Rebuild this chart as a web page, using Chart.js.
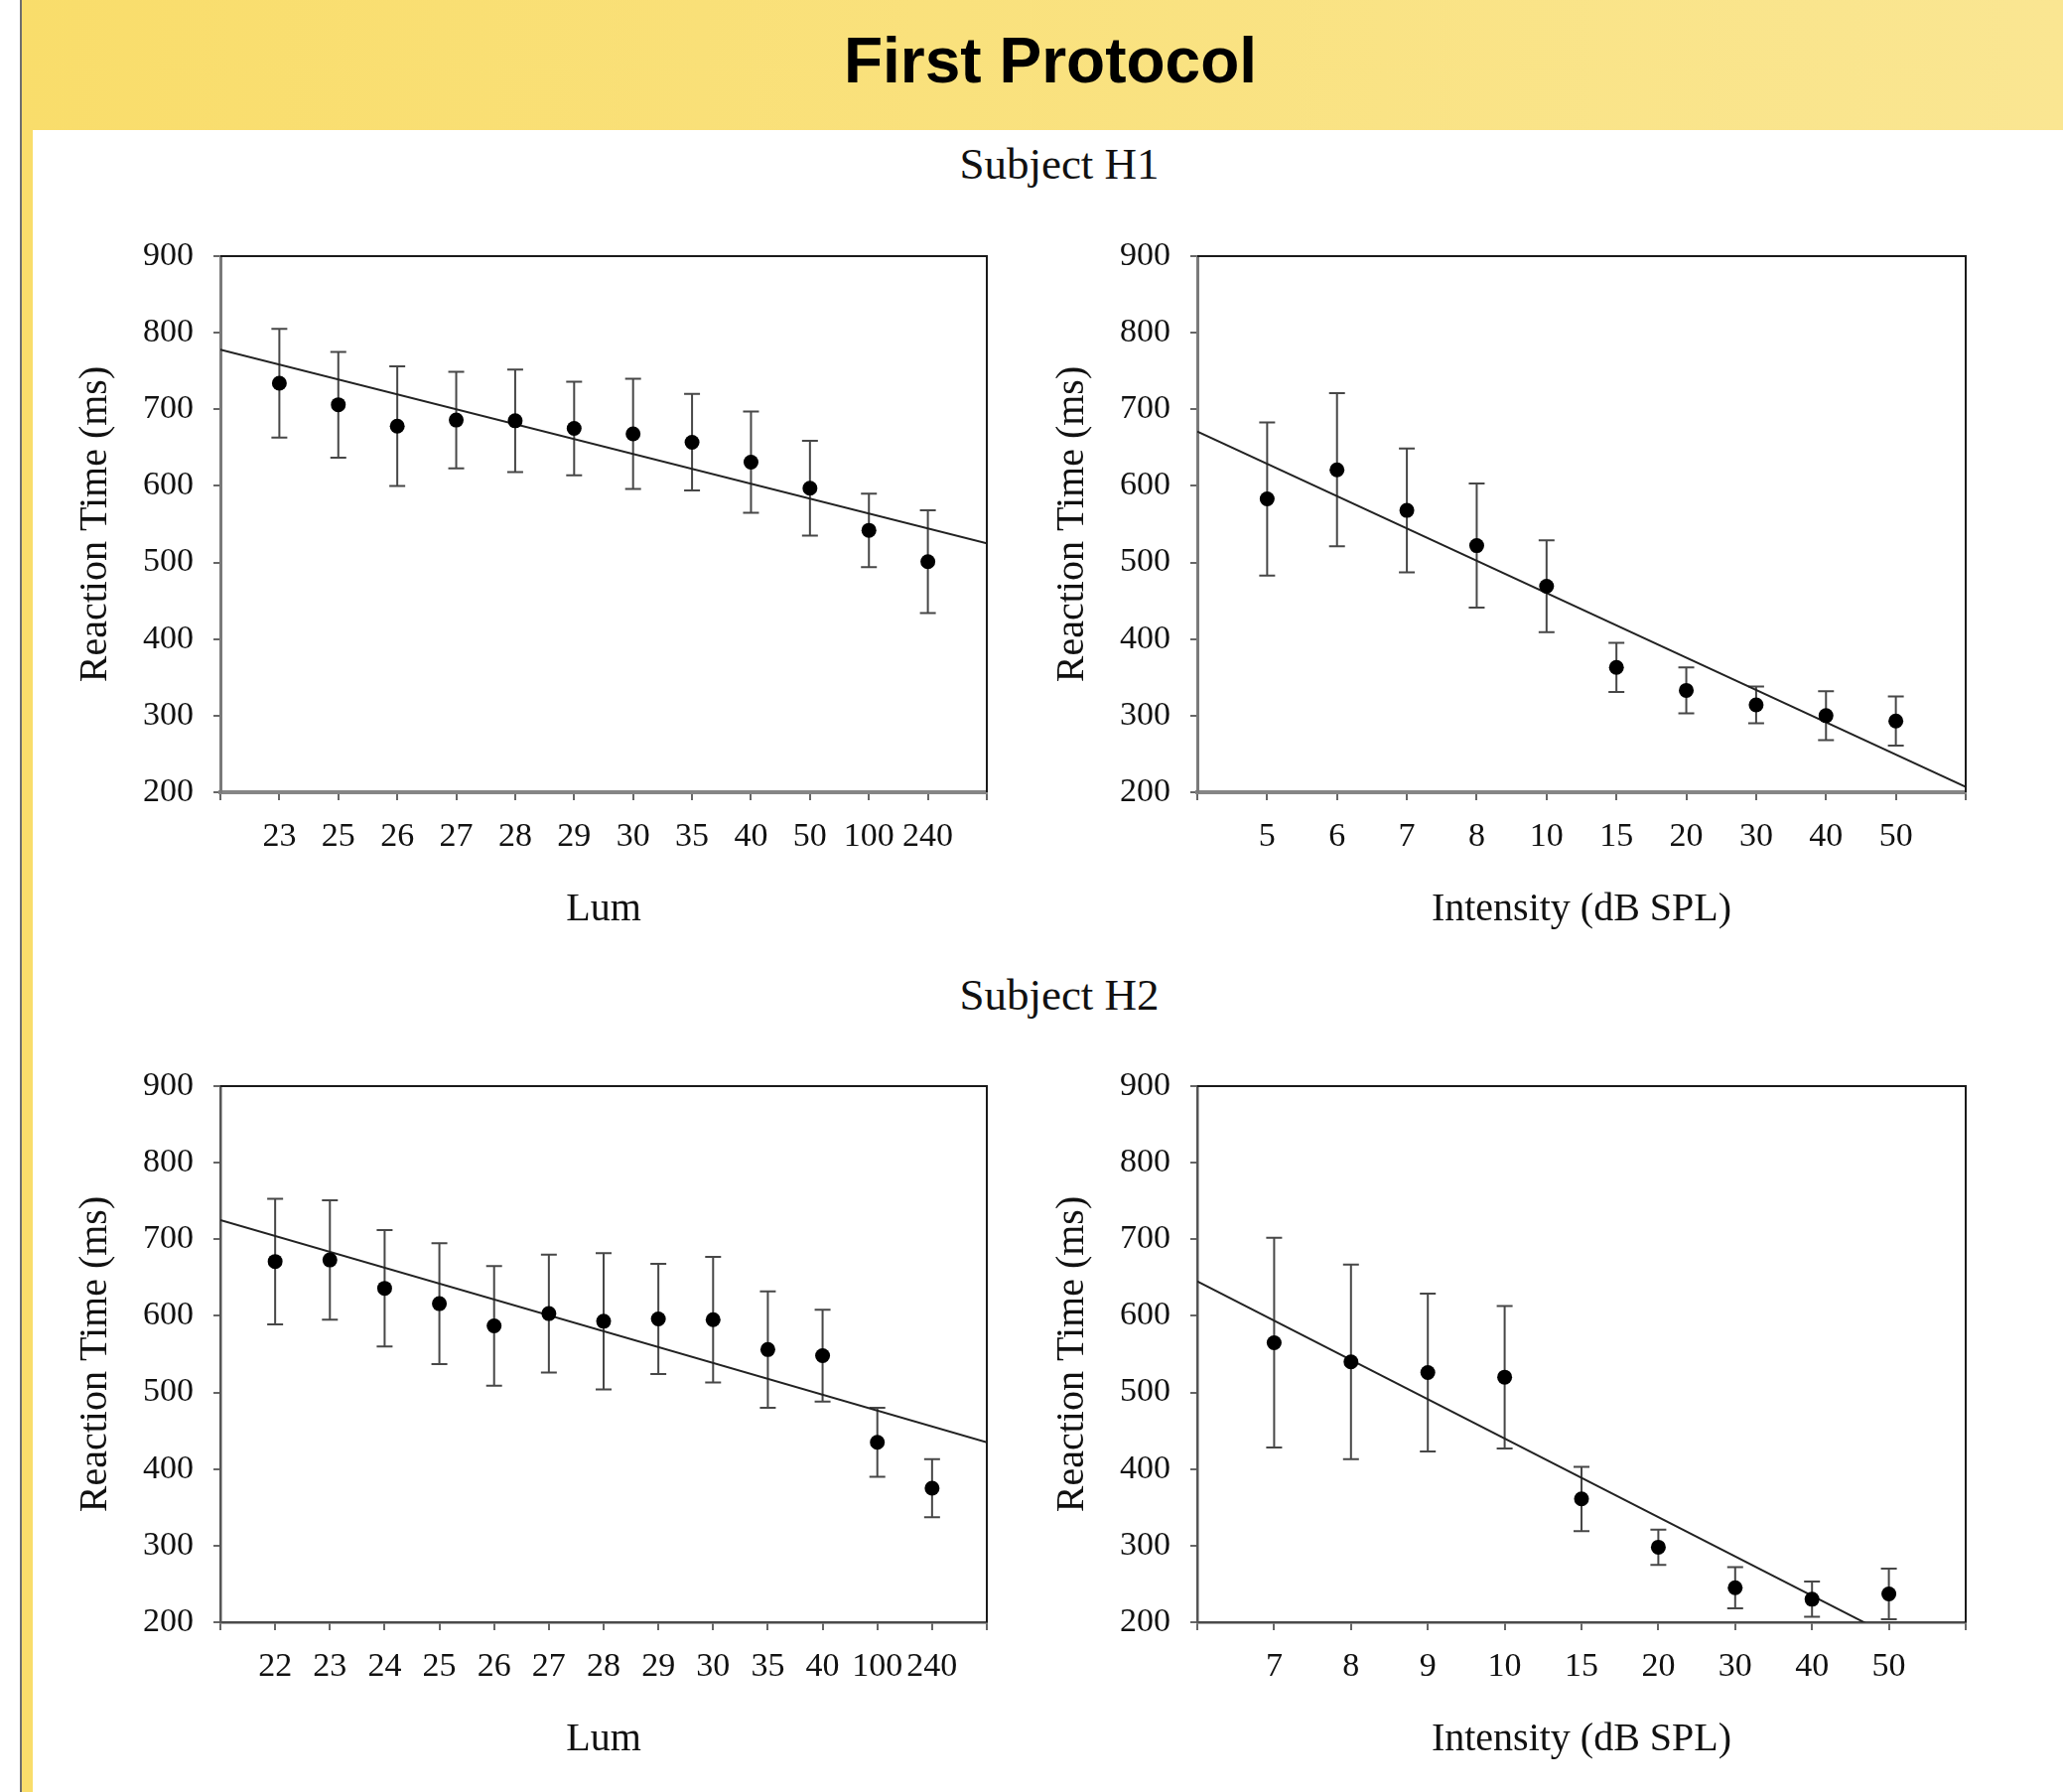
<!DOCTYPE html>
<html>
<head>
<meta charset="utf-8">
<title>First Protocol</title>
<script src="https://cdn.jsdelivr.net/npm/chart.js@4.4.1/dist/chart.umd.min.js"></script>
<style>
  body { margin: 0; width: 2078px; height: 1805px; overflow: hidden; background: #fff; position: relative; }
  .edge { position: absolute; left: 20px; top: 0; width: 2px; height: 1805px; background: #6e6e6e; }
  .strip { position: absolute; left: 22px; top: 0; width: 11px; height: 1805px; background: #f9dd6b; }
  .banner { position: absolute; left: 22px; top: 0; width: 2056px; height: 131px; background: linear-gradient(to right, #f9dd6b, #fae692); }
  .title { position: absolute; left: 1058px; top: 29px; transform: translateX(-50%); margin: 0; white-space: nowrap;
           font: bold 64px/64px "Liberation Sans", Arial, sans-serif; color: #000; }
  .subject { position: absolute; left: 1067px; transform: translateX(-50%); white-space: nowrap;
             font: 45px/45px "Liberation Serif", "Times New Roman", serif; color: #111; }
  canvas { position: absolute; }
</style>
</head>
<body>
<div class="edge"></div>
<div class="strip"></div>
<div class="banner"></div>
<h1 class="title">First Protocol</h1>
<div class="subject" style="top:143px">Subject H1</div>
<div class="subject" style="top:980px">Subject H2</div>

<canvas id="h1Lum" width="972" height="741" style="left:52px;top:217px"></canvas>
<canvas id="h1Int" width="974" height="741" style="left:1036px;top:217px"></canvas>
<canvas id="h2Lum" width="972" height="741" style="left:52px;top:1053px"></canvas>
<canvas id="h2Int" width="974" height="741" style="left:1036px;top:1053px"></canvas>

<script>
// Subject H1 - luminance
const lumH1 = ["23", "25", "26", "27", "28", "29", "30", "35", "40", "50", "100", "240"];
const rtLumH1 = [734, 706, 678, 686, 685, 675, 668, 657, 631, 597, 542, 501];
const errLumH1 = [71, 69, 78, 63, 67, 61, 72, 63, 66, 62, 48, 67];
const fitLumH1 = [778, 525];   // regression at the left / right edge

// Subject H1 - intensity
const intH1 = ["5", "6", "7", "8", "10", "15", "20", "30", "40", "50"];
const rtIntH1 = [583, 621, 568, 522, 469, 363, 333, 314, 300, 293];
const errIntH1 = [100, 100, 81, 81, 60, 32, 30, 24, 32, 32];
const fitIntH1 = [671, 207];

// Subject H2 - luminance
const lumH2 = ["22", "23", "24", "25", "26", "27", "28", "29", "30", "35", "40", "100", "240"];
const rtLumH2 = [671, 673, 636, 616, 587, 603, 593, 596, 595, 556, 548, 435, 375];
const errLumH2 = [82, 78, 76, 79, 78, 77, 89, 72, 82, 76, 60, 45, 38];
const fitLumH2 = [725, 435];

// Subject H2 - intensity
const intH2 = ["7", "8", "9", "10", "15", "20", "30", "40", "50"];
const rtIntH2 = [565, 540, 526, 520, 361, 298, 245, 230, 237];
const errIntH2 = [137, 127, 103, 93, 42, 23, 27, 23, 33];
const fitIntH2 = [645, 132];

const yTicks = [200, 300, 400, 500, 600, 700, 800, 900];

Chart.defaults.font.family = '"Liberation Serif", "Times New Roman", serif';
Chart.defaults.color = "#111";

function makeChart(id, labels, means, errs, fit, xTitle, axis){
    const n = labels.length;

    // vertical error bars with caps, drawn under the dots
    const errorBars = {
        id: "errorBars",
        beforeDatasetsDraw(chart){
            const {ctx, scales: {x, y}} = chart;
            ctx.save();
            ctx.strokeStyle = "#474747";
            ctx.lineWidth = 2;
            means.forEach((m, i) => {
                const px = x.getPixelForValue(i + 1);
                const top = y.getPixelForValue(m + errs[i]);
                const bot = y.getPixelForValue(m - errs[i]);
                ctx.beginPath();
                ctx.moveTo(px, top); ctx.lineTo(px, bot);
                ctx.moveTo(px - 8, top); ctx.lineTo(px + 8, top);
                ctx.moveTo(px - 8, bot); ctx.lineTo(px + 8, bot);
                ctx.stroke();
            });
            ctx.restore();
        }
    };

    // closing lines on top and right of the plot
    const frame = {
        id: "frame",
        afterDraw(chart){
            const {ctx, chartArea: a} = chart;
            ctx.save();
            ctx.strokeStyle = "#1a1a1a";
            ctx.lineWidth = 2;
            ctx.beginPath();
            ctx.moveTo(a.left, a.top);
            ctx.lineTo(a.right, a.top);
            ctx.lineTo(a.right, a.bottom);
            ctx.stroke();
            ctx.restore();
        }
    };

    return new Chart(document.getElementById(id), {
        type: "scatter",
        data: {
            datasets: [
                {
                    data: means.map((v, i) => ({x: i + 1, y: v})),
                    pointRadius: 7.5,
                    pointHoverRadius: 7.5,
                    backgroundColor: "#000",
                    borderWidth: 0
                },
                {
                    data: [{x: 0, y: fit[0]}, {x: n + 1, y: fit[1]}],
                    showLine: true,
                    pointRadius: 0,
                    borderColor: "#222",
                    borderWidth: 2
                }
            ]
        },
        options: {
            responsive: false,
            animation: false,
            events: [],
            layout: { padding: { top: 41, right: 30, left: 0, bottom: 0 } },
            plugins: { legend: { display: false }, tooltip: { enabled: false } },
            scales: {
                x: {
                    type: "linear",
                    min: 0,
                    max: n + 1,
                    afterFit: s => { s.height = 160; },
                    ticks: {
                        stepSize: 1,
                        autoSkip: false,
                        maxTicksLimit: 100,
                        maxRotation: 0,
                        padding: 17,
                        font: { size: 34 },
                        callback: v => labels[Math.round(v) - 1] ?? ""
                    },
                    grid: { drawOnChartArea: false, drawTicks: true, tickLength: 8, color: "#666", lineWidth: 2 },
                    border: { color: axis.bottomColor, width: axis.bottomWidth },
                    title: { display: true, text: xTitle, font: { size: 40 }, padding: { top: 0, bottom: 18 } }
                },
                y: {
                    min: 200,
                    max: 900,
                    afterFit: s => { s.width = 170; },
                    afterBuildTicks: s => { s.ticks = yTicks.map(v => ({value: v})); },
                    ticks: { padding: 20, font: { size: 34 } },
                    grid: { drawOnChartArea: false, drawTicks: true, tickLength: 7, color: "#666", lineWidth: 2 },
                    border: { color: axis.leftColor, width: axis.leftWidth },
                    title: { display: true, text: "Reaction Time (ms)", font: { size: 40 }, padding: { top: 20, bottom: 0 } }
                }
            }
        },
        plugins: [errorBars, frame]
    });
}

const topAxes = { leftColor: "#7a7a7a", leftWidth: 3, bottomColor: "#858585", bottomWidth: 4 };
const lowAxes = { leftColor: "#555", leftWidth: 2.5, bottomColor: "#4a4a4a", bottomWidth: 2.5 };

makeChart("h1Lum", lumH1, rtLumH1, errLumH1, fitLumH1, "Lum", topAxes);
makeChart("h1Int", intH1, rtIntH1, errIntH1, fitIntH1, "Intensity (dB SPL)", topAxes);
makeChart("h2Lum", lumH2, rtLumH2, errLumH2, fitLumH2, "Lum", lowAxes);
makeChart("h2Int", intH2, rtIntH2, errIntH2, fitIntH2, "Intensity (dB SPL)", lowAxes);
</script>
</body>
</html>
